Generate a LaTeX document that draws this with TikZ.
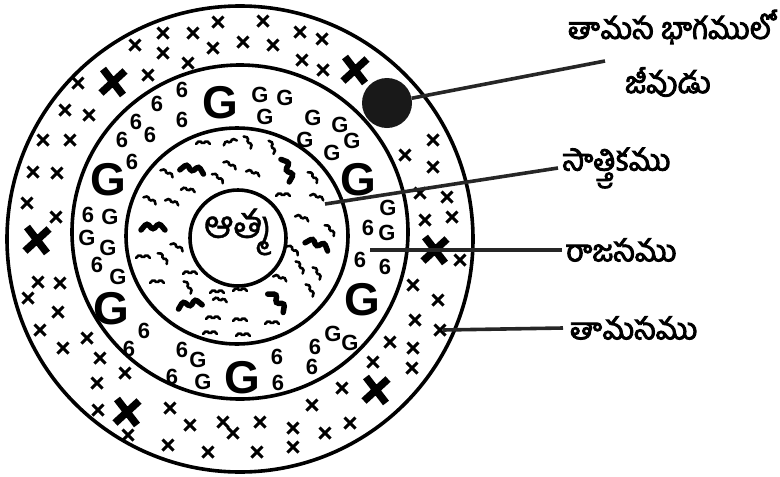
\documentclass[tikz,border=0pt]{standalone}
\usepackage{fontspec}
\usepackage{tikz}
\newfontfamily\telugu[Script=Telugu, FakeBold=1]{Hind Guntur}
\newfontfamily\telugubf[Script=Telugu, FakeBold=3]{Hind Guntur}
\newfontfamily\markfont{Liberation Sans}
\usetikzlibrary{positioning}

\begin{document}
\begin{tikzpicture}[x=1pt, y=-1pt,
    ring/.style={line width=3.6pt},
    lead/.style={line width=3.6pt, black!85},
    lbl/.style={font=\telugubf\fontsize{30}{34}\selectfont, inner sep=0pt},
    gunamark/.style={font=\markfont\bfseries\fontsize{22}{22}\selectfont, inner sep=0pt},
    biggunamark/.style={font=\markfont\bfseries\fontsize{46}{46}\selectfont, inner sep=0pt},
    smallx/.pic={\draw[line width=3pt] (-5.5,-5.5) -- (5.5,5.5) (-5.5,5.5) -- (5.5,-5.5);},
    bigx/.pic={\draw[line width=7.5pt] (-10,-13) -- (10,13) (-12,11) -- (12,-11);},
    wave/.pic={\draw[line width=2.6pt, line cap=round, rounded corners=1.5pt] (-7,1) -- (-3.5,-2.5) -- (0,1) -- (3.5,-2.5) -- (7,1);},
    bigwave/.pic={\draw[line width=5.5pt, line cap=round, rounded corners=3pt] (-12,2) -- (-6,-5) -- (0,2) -- (6,-5) -- (12,2);}
  ]
  \useasboundingbox (0,0) rectangle (780,477);

  \draw[ring] (240,239) circle[radius=233];
  \draw[ring] (240,232) ellipse[x radius=168, y radius=167];
  \draw[ring] (237,236) ellipse[x radius=111, y radius=108];
  \draw[ring] (238,238) circle[radius=48];
  \node[font=\telugu\fontsize{38}{38}\selectfont] (atma) at (238,232) {ఆత్మ};

  \foreach \px/\py in {218/22,263/21,163/33,193/33,300/32,322/39,135/45,243/42,273/45,213/48,
      163/53,188/63,302/60,323/70,148/75,78/83,65/110,89/115,43/140,70/140,33/172,57/173,
      27/203,56/217,38/282,60/283,28/298,58/312,40/330,63/348,87/338,100/358,98/410,97/383,
      125/373,128/435,168/445,170/408,190/425,208/452,223/422,233/433,260/422,257/452,
      293/428,293/447,312/405,325/433,350/423,342/388,373/362,390/342,412/368,413/348,
      415/320,440/330,438/300,413/285,452/217,425/220,447/197,420/193,433/167,405/155,
      433/140,460/260}
    \pic at (\px,\py) {smallx};
  \foreach \px/\py in {113/82,355/70,37/240,435/250,127/412,376/390}
    \pic at (\px,\py) {bigx};

  \foreach \px/\py/\c in {182/90/6,157/104/6,136/122/6,122/140/6,150/135/6,182/120/6,132/162/6,
      260/95/G,285/98/G,265/117/G,313/118/G,340/125/G,305/140/G,332/153/G,352/141/G,
      88/215/6,110/217/G,87/238/G,108/248/G,97/265/6,118/277/G,388/208/G,368/228/6,
      387/233/G,360/260/6,385/267/6,129/349/6,144/331/6,182/350/6,198/360/G,203/382/G,
      172/377/6,277/357/6,315/347/6,312/367/6,278/383/6,333/334/G,350/343/G}
    \node[gunamark] at (\px,\py) {\c};
  \foreach \px/\py in {220/103,108/180,358/180,111/309,362/300,242/378}
    \node[biggunamark] at (\px,\py) {G};

  \foreach \px/\py/\r in {203/143/0,230/142/20,248/142/-60,272/147/-70,167/173/-30,
      230/165/-30,253/173/-20,313/177/-50,150/200/-30,172/202/-20,188/190/-10,218/178/-40,
      283/195/0,317/197/-20,302/218/-20,330/230/-50,143/257/0,163/258/-50,177/247/-30,
      293/250/-40,300/267/-60,317/273/-60,157/282/0,190/273/0,188/287/-60,217/292/0,
      240/290/0,280/278/-20,310/290/-60,220/300/-10,213/318/0,240/320/0,272/323/0,
      210/333/0,243/335/0}
    \pic[rotate=\r] at (\px,\py) {wave};
  \foreach \px/\py/\r in {192/170/-10,287/170/-70,153/228/0,317/245/-20,190/305/10,277/302/-50}
    \pic[rotate=\r] at (\px,\py) {bigwave};

  \node[circle, fill=black!90, minimum size=50pt, inner sep=0pt] (jiva) at (387,103) {};

  \node[lbl] (tamasabhaga) at (671,27) {తామస భాగములో};
  \node[lbl] (jivudu) at (668,82) {జీవుడు};
  \node[lbl, anchor=west] (sattva) at (562,168) {సాత్త్వికము};
  \node[lbl, anchor=west] (rajasa) at (565,250) {రాజసము};
  \node[lbl, anchor=west] (tamasa) at (570,328) {తామసము};

  \coordinate (jivaend) at (605,61);
  \coordinate (sattvapt) at (325,204);
  \coordinate (rajasapt) at (370,250);
  \coordinate (tamasapt) at (443,330);

  \draw[lead] (jiva) -- (jivaend);
  \draw[lead] (sattvapt) -- ([xshift=-4pt]sattva.west);
  \draw[lead] (rajasapt) -- ([xshift=-3pt]rajasa.west);
  \draw[lead] (tamasapt) -- ([xshift=-7pt]tamasa.west);
\end{tikzpicture}
\end{document}
